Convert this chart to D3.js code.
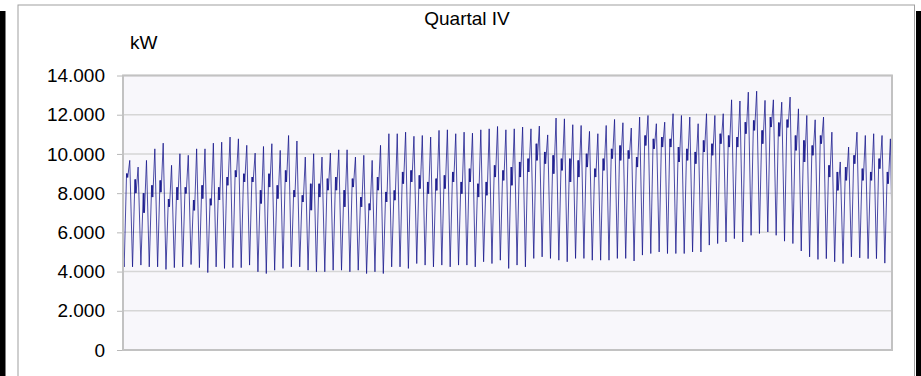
<!DOCTYPE html>
<html>
<head>
<meta charset="utf-8">
<script src="https://cdn.jsdelivr.net/npm/d3@7/dist/d3.min.js"></script>
<style>
  html, body { margin: 0; padding: 0; background: #fff; }
  svg { display: block; font-family: "Liberation Sans", Arial, sans-serif; }
</style>
</head>
<body>
<svg id="chart" width="921" height="376"></svg>
<script>
// Quarter IV load curve, one entry per day (Oct 1 .. Dec 31), values in kW.
const nightLows = [
  4240, 4240, 4330, 4240, 4240, 4110, 4200, 4240, 4360, 4200,
  3950, 4240, 4160, 4200, 4200, 4330, 3990, 3900, 4070, 4160,
  4240, 4240, 4070, 3990, 3990, 4070, 4070, 3990, 4070, 3900,
  3990, 3900, 4240, 4240, 4160, 4410, 4330, 4240, 4330, 4240,
  4330, 4330, 4240, 4500, 4410, 4580, 4160, 4330, 4240, 4670,
  4750, 4670, 4580, 4500, 4670, 4670, 4580, 4580, 4580, 4670,
  4670, 4540, 4840, 4920, 5000, 4920, 4920, 4920, 5000, 5000,
  5350, 5430, 5510, 5680, 5510, 5850, 5940, 6020, 5850, 5550,
  5430, 5050, 4750, 4620, 4660, 4500, 4410, 4750, 4700, 4660,
  4660, 4430
];
const dayHigh = [
  9000, 8700, 8000, 8400, 8650, 7700, 8300, 8300, 7650, 8400,
  7720, 8300, 8820, 9160, 8990, 8820, 8150, 8990, 8400, 9160,
  8150, 7890, 8480, 8480, 8740, 8820, 8150, 8740, 7800, 7470,
  8820, 8060, 8140, 9080, 9160, 8910, 8570, 8740, 8910, 9080,
  8570, 9250, 8480, 8570, 9420, 9160, 9330, 9590, 9760, 10520,
  10100, 9930, 9760, 9760, 9670, 10010, 9250, 9760, 10260, 10430,
  10180, 9840, 10940, 10770, 10860, 10770, 10350, 10260, 10100, 10690,
  10520, 11030, 10940, 10860, 11620, 11710, 11200, 11880, 11600, 11750,
  10940, 10690, 10430, 10940, 9420, 9080, 9330, 9930, 9250, 9080,
  9760, 9080
];
const dayLow = [
  8800, 8000, 7000, 7800, 8050, 7300, 7650, 7980, 7120, 7720,
  7380, 7650, 8400, 8820, 8570, 8570, 7470, 8310, 7720, 8570,
  7800, 7550, 7130, 7800, 8150, 8150, 7300, 8310, 7300, 7130,
  8150, 7550, 7640, 8480, 8570, 8230, 7970, 8140, 8230, 8570,
  7970, 8570, 7800, 7890, 8820, 8650, 8400, 8820, 9080, 9670,
  9500, 8990, 9160, 8570, 8820, 9330, 8820, 9160, 9760, 9670,
  9760, 9330, 10430, 10260, 10350, 10350, 9590, 9670, 9500, 10100,
  9930, 10520, 10350, 10350, 11030, 11200, 10520, 11370, 10900, 11350,
  10180, 9590, 9930, 10520, 8820, 8140, 8650, 9500, 8650, 8650,
  9250, 8480
];
const eveningPeaks = [
  9670, 9330, 9670, 10260, 10550, 9420, 10010, 9930, 10260, 10260,
  10550, 10600, 10860, 10770, 10440, 10040, 10380, 10520, 10180, 10940,
  10660, 9840, 10010, 9840, 10040, 10210, 10210, 9840, 9930, 9670,
  10440, 11030, 11030, 11110, 10900, 10940, 10860, 11200, 11230, 11030,
  11110, 11060, 11230, 11280, 11400, 11230, 11280, 11370, 11280, 11420,
  10970, 11830, 11790, 11490, 11450, 11150, 11030, 11450, 11760, 11590,
  11320, 11880, 11960, 11540, 11620, 12050, 11960, 11880, 11540, 12050,
  11960, 12050, 12760, 12700, 13150, 13200, 12730, 12760, 12640, 12900,
  12300, 11960, 11740, 11880, 11110, 9590, 10350, 11110, 10940, 11030,
  10940, 10770
];
const firstLoad = 4900;   // Oct 1, 00:00
const lastLoad = 6300;    // Dec 31, 24:00

const yTicks = [0, 2000, 4000, 6000, 8000, 10000, 12000, 14000];
const titleText = "Quartal IV";
const unitText = "kW";

// hour of day for each sampled point: night low, daytime band, evening peak
const sampleHours = [3.4, 10.2, 11.2, 12.2, 13.6, 19.4];

const svg = d3.select("#chart");
const W = 921, H = 376;
const plot = { left: 123, top: 75.5, right: 892, bottom: 350 };

// surrounding frame and dark side bars
svg.append("rect").attr("x", 0).attr("y", 11).attr("width", 5.5).attr("height", H - 11).attr("fill", "#000");
svg.append("rect").attr("x", 916).attr("y", 11).attr("width", 5).attr("height", H - 11).attr("fill", "#000");
svg.append("rect").attr("x", 18).attr("y", 5).attr("width", 896.5).attr("height", H + 20)
  .attr("fill", "#fff").attr("stroke", "#a0a0a0").attr("stroke-width", 1);

const nDays = eveningPeaks.length;
const x = d3.scaleLinear().domain([0, nDays]).range([plot.left, plot.right]);
const y = d3.scaleLinear().domain([0, 14000]).range([plot.bottom, plot.top]);

// plot background
svg.append("rect")
  .attr("x", plot.left).attr("y", plot.top)
  .attr("width", plot.right - plot.left).attr("height", plot.bottom - plot.top)
  .attr("fill", "#f8f7fb");

// gridlines
svg.append("g").selectAll("line").data(yTicks.filter(v => v > 0)).join("line")
  .attr("x1", plot.left).attr("x2", plot.right)
  .attr("y1", d => y(d)).attr("y2", d => y(d))
  .attr("stroke", "#d6d6d6").attr("stroke-width", 1.5);

// y axis
const fmt = d3.formatLocale({ decimal: ",", thousands: ".", grouping: [3], currency: ["", "€"] }).format(",d");
const yAxis = d3.axisLeft(y).tickValues(yTicks).tickFormat(fmt).tickSize(6).tickPadding(12);
const gy = svg.append("g").attr("transform", `translate(${plot.left},0)`).call(yAxis);
gy.select(".domain").remove();
gy.selectAll(".tick line").attr("stroke", "#b8b8b8");
gy.selectAll(".tick text").attr("font-size", 19).attr("fill", "#000")
  .attr("font-family", "'Liberation Sans', Arial, sans-serif");

// load series
const series = [{ t: 0, v: firstLoad }];
for (let d = 0; d < nDays; d++) {
  const vals = [nightLows[d], dayHigh[d], dayLow[d], dayHigh[d], dayLow[d], eveningPeaks[d]];
  sampleHours.forEach((h, i) => series.push({ t: d + h / 24, v: vals[i] }));
}
series.push({ t: nDays, v: lastLoad });

const line = d3.line().x(d => x(d.t)).y(d => y(d.v));
svg.append("path").datum(series)
  .attr("d", line)
  .attr("fill", "none")
  .attr("stroke", "#14148a")
  .attr("stroke-opacity", 0.85)
  .attr("stroke-width", 0.9)
  .attr("stroke-linejoin", "round");

// plot border
svg.append("rect")
  .attr("x", plot.left).attr("y", plot.top)
  .attr("width", plot.right - plot.left).attr("height", plot.bottom - plot.top)
  .attr("fill", "none").attr("stroke", "#c2c2c2").attr("stroke-width", 2);

// titles
svg.append("text").attr("x", 467).attr("y", 25).attr("text-anchor", "middle")
  .attr("font-size", 19).attr("fill", "#000").text(titleText);
svg.append("text").attr("x", 130).attr("y", 48.5)
  .attr("font-size", 19).attr("fill", "#000").text(unitText);
</script>
</body>
</html>
